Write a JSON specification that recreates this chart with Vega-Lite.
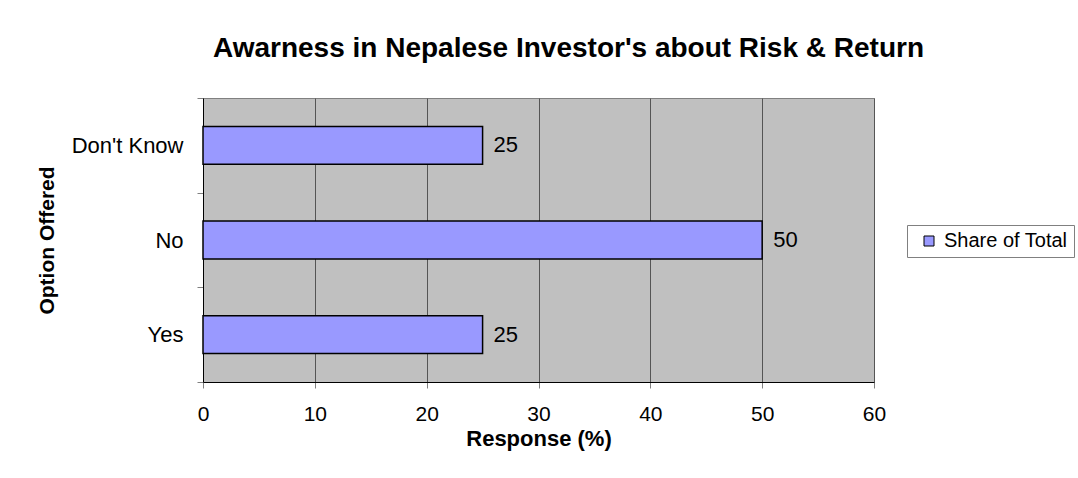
{
  "$schema": "https://vega.github.io/schema/vega-lite/v6.json",
  "width": 671,
  "height": 284,
  "autosize": "none",
  "padding": {"left": 203, "top": 98, "right": 204, "bottom": 96},
  "background": "white",
  "config": {
    "font": "Liberation Sans",
    "view": {"fill": "#C0C0C0", "stroke": "#808080", "strokeWidth": 1}
  },
  "title": {
    "text": "Awarness in Nepalese Investor's about Risk & Return",
    "fontSize": 28,
    "fontWeight": "bold",
    "font": "Liberation Sans",
    "color": "black",
    "anchor": "middle",
    "limit": 1000,
    "dx": 30,
    "offset": 24
  },
  "data": {
    "values": [
      {"option": "Don't Know", "response": 25, "series": "Share of Total"},
      {"option": "No", "response": 50, "series": "Share of Total"},
      {"option": "Yes", "response": 25, "series": "Share of Total"}
    ]
  },
  "encoding": {
    "y": {
      "field": "option",
      "type": "nominal",
      "sort": ["Don't Know", "No", "Yes"],
      "scale": {"paddingInner": 0, "paddingOuter": 0},
      "axis": {
        "title": "Option Offered",
        "titleFontSize": 21,
        "titleFontWeight": "bold",
        "titleColor": "black",
        "titlePadding": 14,
        "labelFontSize": 22,
        "labelColor": "black",
        "labelPadding": 14,
        "tickBand": "extent",
        "tickSize": 6,
        "tickColor": "#808080",
        "domainColor": "black",
        "domainWidth": 1,
        "grid": false
      }
    },
    "x": {
      "field": "response",
      "type": "quantitative",
      "scale": {"domain": [0, 60], "nice": false},
      "axis": {
        "values": [0, 10, 20, 30, 40, 50, 60],
        "title": "Response (%)",
        "titleFontSize": 22,
        "titleFontWeight": "bold",
        "titleColor": "black",
        "titlePadding": 4,
        "labelFontSize": 21,
        "labelColor": "black",
        "labelPadding": 15,
        "labelFlush": false,
        "tickSize": 6,
        "tickColor": "#808080",
        "domainColor": "black",
        "grid": true,
        "gridColor": "#555555",
        "gridWidth": 1,
        "gridOpacity": 1
      }
    }
  },
  "layer": [
    {
      "mark": {"type": "bar", "height": {"band": 0.4}, "stroke": "black", "strokeWidth": 1.5},
      "encoding": {
        "color": {
          "field": "series",
          "type": "nominal",
          "scale": {"range": ["#9999FF"]},
          "legend": {
            "title": null,
            "orient": "none",
            "legendX": 704,
            "legendY": 127,
            "symbolType": "square",
            "symbolSize": 100,
            "symbolFillColor": "#9999FF",
            "symbolStrokeColor": "black",
            "symbolStrokeWidth": 1,
            "symbolOffset": 6,
            "labelFontSize": 20,
            "labelColor": "black",
            "labelOffset": 5,
            "padding": 6,
            "strokeColor": "#808080",
            "fillColor": "white"
          }
        }
      }
    },
    {
      "mark": {"type": "text", "align": "left", "baseline": "middle", "dx": 11, "fontSize": 22, "color": "black"},
      "encoding": {
        "text": {"field": "response", "type": "quantitative"}
      }
    }
  ]
}
